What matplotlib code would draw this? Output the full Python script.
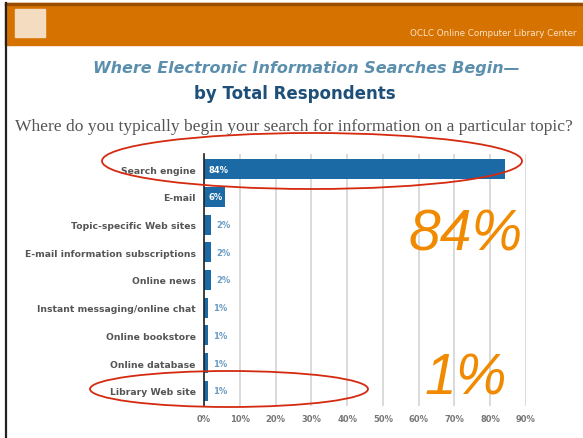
import matplotlib
matplotlib.use("Agg")
import matplotlib.pyplot as plt
from matplotlib.patches import Rectangle, Ellipse

# survey answers, top to bottom
categories = ["Search engine", "E-mail", "Topic-specific Web sites",
              "E-mail information subscriptions", "Online news",
              "Instant messaging/online chat", "Online bookstore",
              "Online database", "Library Web site"]
percents = [84, 6, 2, 2, 2, 1, 1, 1, 1]
xticks = [0, 10, 20, 30, 40, 50, 60, 70, 80, 90]

W, H = 583, 439
fig = plt.figure(figsize=(W / 100, H / 100), dpi=100)
fig.patch.set_facecolor("white")

def fx(px):
    return px / W

def fy(py):
    return 1 - py / H

# orange header band with logo block and small caption
fig.patches.append(Rectangle((fx(5), fy(46)), fx(W - 5), 42 / H,
                             transform=fig.transFigure, color="#d67300", zorder=0))
fig.patches.append(Rectangle((fx(5), fy(6)), fx(W - 5), 2 / H,
                             transform=fig.transFigure, color="#9a4f00", zorder=1))
fig.patches.append(Rectangle((fx(15), fy(38)), fx(30), 28 / H,
                             transform=fig.transFigure, color="#f4dcc0", zorder=1))
fig.text(fx(577), fy(33), "OCLC Online Computer Library Center", ha="right",
         va="center", fontsize=6.3, color="#fbe3c8")
# dark left border
fig.add_artist(plt.Line2D([fx(6), fx(6)], [0, fy(4)], transform=fig.transFigure,
                          color="#222222", lw=1.6))

fig.text(fx(306), fy(68), "Where Electronic Information Searches Begin\u2014",
         ha="center", va="center", fontsize=11.5, style="italic",
         fontweight="bold", color="#5b8fad")
fig.text(fx(295), fy(94), "by Total Respondents", ha="center", va="center",
         fontsize=12, fontweight="bold", color="#1d4f78")
fig.text(fx(294), fy(127),
         "Where do you typically begin your search for information on a particular topic?",
         ha="center", va="center", fontsize=12.6, family="Liberation Serif",
         color="#555555")

ax = fig.add_axes([fx(204), (H - 407) / H, fx(322), 252 / H])
ypos = list(range(len(categories)))
bars = ax.barh(ypos, percents, height=0.72, color="#1b6aa6", zorder=3)
ax.set_xlim(0, 90)
ax.set_ylim(len(categories) - 0.45, -0.55)
ax.set_yticks(ypos)
ax.set_yticklabels(categories, fontsize=6.7, fontweight="bold", color="#555555")
ax.set_xticks(xticks)
ax.set_xticklabels([f"{t}%" for t in xticks], fontsize=6, fontweight="bold",
                   color="#777777")
ax.tick_params(length=0, pad=6)
ax.grid(axis="x", color="#d4d4d4", lw=1.2, zorder=0)
for s in ["top", "right", "bottom"]:
    ax.spines[s].set_visible(False)
ax.spines["left"].set_color("#222222")
ax.spines["left"].set_linewidth(1.2)
ax.spines["left"].set_zorder(4)

for y, v in zip(ypos, percents):
    if v >= 5:
        ax.text(1.2, y, f"{v}%", ha="left", va="center", fontsize=6,
                fontweight="bold", color="white", zorder=5)
    else:
        ax.text(v + 1.5, y, f"{v}%", ha="left", va="center", fontsize=6,
                fontweight="bold", color="#6a9cc4", zorder=5)

# red rings around the first and last rows
fig.patches.append(Ellipse((fx(312), fy(162)), fx(420), 56 / H, fill=False,
                           edgecolor="#d42a10", lw=1.3,
                           transform=fig.transFigure, zorder=10))
fig.patches.append(Ellipse((fx(229), fy(390)), fx(278), 36 / H, fill=False,
                           edgecolor="#d42a10", lw=1.3,
                           transform=fig.transFigure, zorder=10))

fig.text(fx(466), fy(236), f"{percents[0]}%", ha="center", va="center",
         fontsize=41, style="italic", family="Liberation Sans", color="#f08a00")
fig.text(fx(466), fy(380), f"{percents[-1]}%", ha="center", va="center",
         fontsize=41, style="italic", family="Liberation Sans", color="#f08a00")

fig.savefig("out.png", dpi=100)
